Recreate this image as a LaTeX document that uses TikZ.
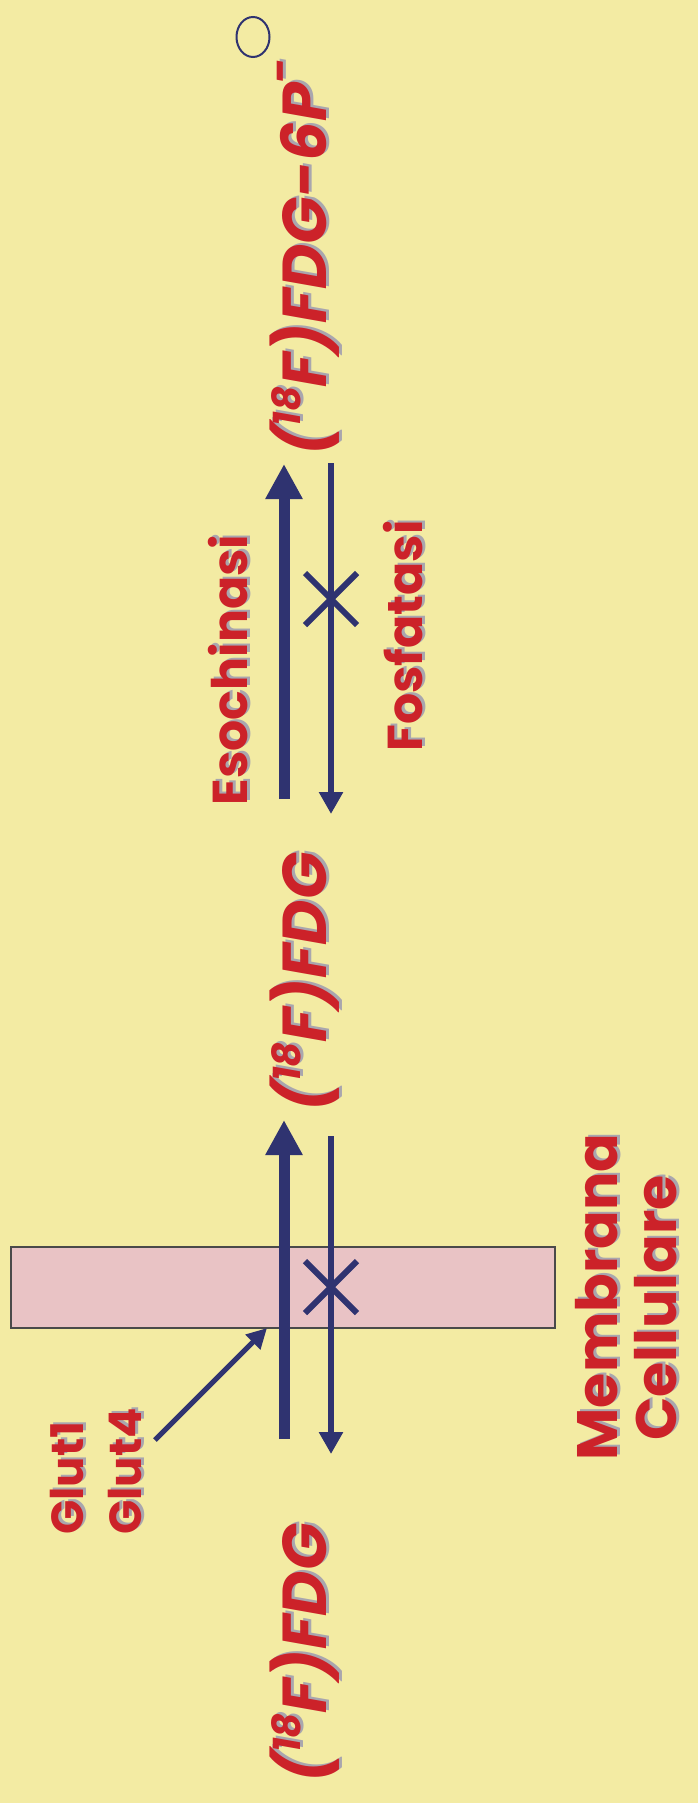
\documentclass[tikz,border=0pt]{standalone}
\usepackage{fontspec}
\newfontfamily\pop{Poppins}
\usetikzlibrary{arrows.meta,shapes.geometric}
\definecolor{bg}{HTML}{F3EBA3}
\definecolor{lblred}{HTML}{CC2229}
\definecolor{shgray}{HTML}{A9A6AE}
\definecolor{navy}{HTML}{2F3370}
\definecolor{memb}{HTML}{E9C3C5}
\definecolor{membdraw}{HTML}{4A4A4A}
\newcommand\slabel[4]{%
  \node[#1, text=shgray] at ([shift={(3,-2)}]#3) {#4};
  \node[#1, text=lblred] (#2) at (#3) {#4};}
\newcommand\eighteen{(\raisebox{.42em}{\scalebox{.62}{18}}F)FDG}
\begin{document}
\begin{tikzpicture}[x=1pt,y=-1pt,
  lab/.style={rotate=90, inner sep=0pt, font={\pop\bfseries\fontsize{49}{53}\selectfont}},
  bigl/.style={rotate=90, inner sep=0pt, font={\pop\bfseries\fontsize{57}{61}\selectfont}},
  glut/.style={rotate=90, inner sep=0pt, anchor=west, font={\pop\bfseries\fontsize{45}{49}\selectfont}},
  fdg/.style={rotate=90, inner sep=0pt, font={\pop\bfseries\itshape\fontsize{62}{66}\selectfont}},
  thickarr/.style={navy, line width=11pt, -{Triangle[length=35pt,width=35pt]}},
  thinarr/.style={navy, line width=6pt, -{Triangle[length=22pt,width=23pt]}},
  xmark/.style={navy, line width=6pt},
  glutarr/.style={navy, line width=5pt, -{Triangle[length=20pt,width=20pt]}}]
\fill[bg] (0,0) rectangle (698,1803);
\useasboundingbox (0,0) rectangle (698,1803);
% membrane
\node[draw=membdraw, fill=memb, line width=1.5pt, minimum width=544pt, minimum height=81pt, inner sep=0pt] (mem) at (283,1287.5) {};
% coordinates
\coordinate (t1s) at (284,1439); \coordinate (t1e) at (284,1120);
\coordinate (d1s) at (331,1136); \coordinate (d1e) at (331,1454);
\coordinate (t2s) at (284,799);  \coordinate (t2e) at (284,464);
\coordinate (d2s) at (331,463);  \coordinate (d2e) at (331,814);
\coordinate (gs) at (155,1440);  \coordinate (ge) at (267,1328);
\draw[thickarr] (t1s) -- (t1e);
\draw[thinarr] (d1s) -- (d1e);
\draw[thickarr] (t2s) -- (t2e);
\draw[thinarr] (d2s) -- (d2e);
\draw[glutarr] (gs) -- (ge);
\draw[xmark] (305,1261) -- (357,1313);
\draw[xmark] (305,1313) -- (357,1261);
\draw[xmark] (305,573) -- (357,625);
\draw[xmark] (305,625) -- (357,573);
% charge circle
\node[draw=navy, ellipse, line width=2pt, minimum width=33pt, minimum height=40pt, inner sep=0pt] (ch) at (253,37) {};
% labels
\slabel{fdg}{top}{305,257}{\eighteen-6P\raisebox{.5em}{\scalebox{.7}{-}}}
\slabel{fdg}{mid}{305,982}{\eighteen}
\slabel{fdg}{bot}{305,1653}{\eighteen}
\slabel{lab}{eso}{228,670}{Esochinasi}
\slabel{lab}{fos}{403,636}{Fosfatasi}
\slabel{glut}{g1}{67,1535}{Glut1}
\slabel{glut}{g4}{125,1535}{Glut4}
\slabel{bigl}{mb}{597,1297}{Membrana}
\slabel{bigl}{cl}{656,1308}{Cellulare}
\end{tikzpicture}
\end{document}
